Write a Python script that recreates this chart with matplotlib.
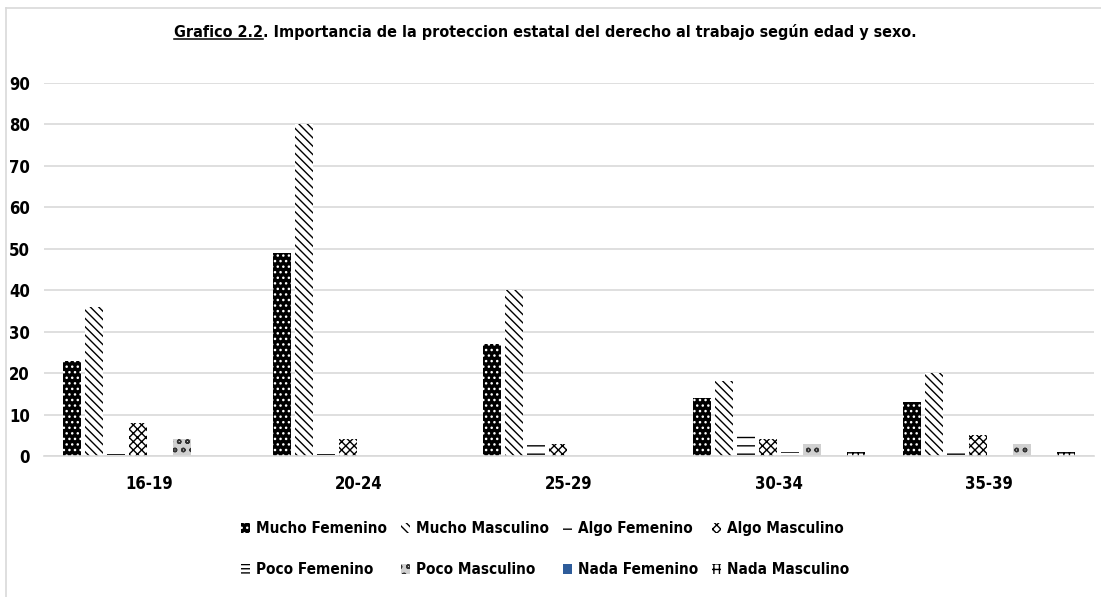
import numpy as np
import matplotlib
matplotlib.use('Agg')
from matplotlib import pyplot as plt
from matplotlib.lines import Line2D

plt.rcParams['font.family'] = ['DejaVu Sans']
plt.rcParams['font.stretch'] = 'condensed'
plt.rcParams['hatch.linewidth'] = 1.0

categories = ['16-19', '20-24', '25-29', '30-34', '35-39']
series_names = ['Mucho Femenino', 'Mucho Masculino', 'Algo Femenino', 'Algo Masculino',
                'Poco Femenino', 'Poco Masculino', 'Nada Femenino', 'Nada Masculino']
mucho_fem = [23, 49, 27, 14, 13]
mucho_mas = [36, 80, 40, 18, 20]
algo_fem = [0.5, 0.5, 3, 6, 2]
algo_mas = [8, 4, 3, 4, 5]
poco_fem = [0, 0, 0, 1, 0]
poco_mas = [4, 0, 0, 3, 3]
nada_fem = [0, 0, 0, 0, 0]
nada_mas = [0, 0, 0, 1, 1]
values = [mucho_fem, mucho_mas, algo_fem, algo_mas, poco_fem, poco_mas, nada_fem, nada_mas]

# (facecolor, hatch color, hatch)
styles = [
    ('black', 'white', '...'),
    ('white', 'black', '\\\\\\\\'),
    ('white', 'black', '--'),
    ('white', 'black', 'xxxx'),
    ('white', 'black', '----'),
    ('#d0d0d0', '#333333', 'oo'),
    ('#2e5c9a', '#2e5c9a', None),
    ('white', 'black', '+++'),
]

fig = plt.figure(figsize=(11.01, 5.97), dpi=100)
ax = fig.add_axes([44/1101, (597-456)/597, 1050/1101, (456-82.7)/597])

x = np.arange(len(categories))
pitch = 0.1048
handles = []
for i, (name, vals, (fc, hc, h)) in enumerate(zip(series_names, values, styles)):
    b = ax.bar(x + (i - 3.5)*pitch, vals, width=pitch*0.8, facecolor=fc, edgecolor=hc,
               hatch=h, linewidth=0, label=name)
    handles.append(b)

ax.set_xlim(-0.5, len(categories) - 0.5)
ax.set_ylim(0, 90)
ax.set_yticks(range(0, 91, 10))
ax.set_xticks(x)
ax.set_xticklabels(categories, fontsize=12, fontweight='bold')
ax.tick_params(axis='y', labelsize=12, length=0, pad=10)
ax.tick_params(axis='x', length=0, pad=14)
for lab in ax.get_yticklabels():
    lab.set_fontweight('bold')
ax.grid(axis='y', color='#d9d9d9', linewidth=1.2)
ax.set_axisbelow(True)
for s in ['top', 'right', 'left']:
    ax.spines[s].set_visible(False)
ax.spines['bottom'].set_color('#d9d9d9')
ax.spines['bottom'].set_linewidth(1.2)

# legend fills column-wise, so reorder to read row by row
order = [0, 4, 1, 5, 2, 6, 3, 7]
leg = fig.legend([handles[k] for k in order], [series_names[k] for k in order],
                 ncol=4, loc='center', bbox_to_anchor=(0.495, 0.080), frameon=False,
                 fontsize=11, handlelength=0.6, handleheight=0.6, handletextpad=0.4,
                 columnspacing=0.9, labelspacing=1.7)
for t in leg.get_texts():
    t.set_fontweight('bold')

# title with underlined prefix
title = 'Grafico 2.2. Importancia de la proteccion estatal del derecho al trabajo según edad y sexo.'
prefix = 'Grafico 2.2'
tt = fig.text(0.495, 1 - 32/597, title, ha='center', va='center', fontsize=11.5, fontweight='bold')
fig.canvas.draw()
r = fig.canvas.get_renderer()
bb = tt.get_window_extent(r)
tp = fig.text(0, 0, prefix, fontsize=11.5, fontweight='bold')
pw = tp.get_window_extent(r).width
tp.remove()
x0 = bb.x0 / fig.bbox.width
x1 = (bb.x0 + pw) / fig.bbox.width
yu = (bb.y0 + 1) / fig.bbox.height
fig.add_artist(Line2D([x0, x1], [yu, yu], color='black', linewidth=1.1))

# chart border
fig.add_artist(Line2D([6/1101, 6/1101], [0, 1 - 8/597], color='#d9d9d9', linewidth=1.2))
fig.add_artist(Line2D([6/1101, 1], [1 - 8/597, 1 - 8/597], color='#d9d9d9', linewidth=1.2))

plt.savefig('out.png', dpi=100)
